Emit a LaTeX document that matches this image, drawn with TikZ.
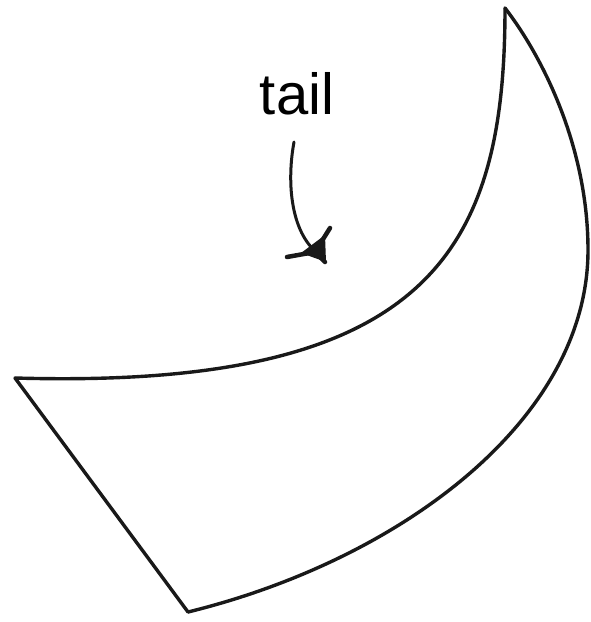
\documentclass[tikz,border=0pt]{standalone}
\usepackage{fontspec}
\setsansfont{Liberation Sans}
\begin{document}
\begin{tikzpicture}[x=1pt,y=-1pt,
  stroke/.style={line width=3.4pt,line cap=round,line join=round,black!90},
  label/.style={font=\sffamily\fontsize{58}{58}\selectfont,inner sep=0pt}]
\useasboundingbox (0,0) rectangle (591,622);
\coordinate (A) at (15,378);
\coordinate (B) at (188,612);
\coordinate (C) at (505,8);
\coordinate (Q) at (588,250);
% left edge
\draw[stroke] (A) -- (B);
% inner (upper) curve
\draw[stroke] (A) .. controls (430,390) and (505,250) .. (C);
% outer curve
\draw[stroke] (C) .. controls (545,60) and (588,150) .. (Q)
              .. controls (588,420) and (400,560) .. (B);
% label
\node[label] (t) at (297,94) {tail};
\coordinate (s) at (294,142);
\coordinate (e) at (315,251);
\draw[stroke,line width=3pt] (s) .. controls (287,180) and (290,228) .. (e);
% arrowhead
\fill[black!90] (301,253) -- (325,235) -- (326,262) -- cycle;
\draw[stroke,line width=4.5pt] (287,257) -- (315,252) -- (330,228);
\draw[stroke,line width=4.5pt] (315,252) -- (325,262);
\end{tikzpicture}
\end{document}
